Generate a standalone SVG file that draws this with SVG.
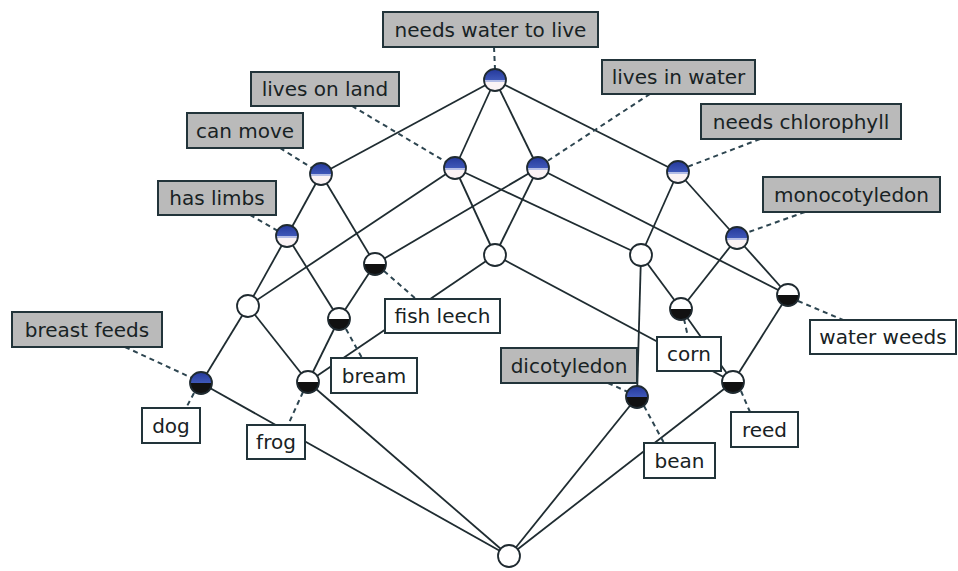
<svg xmlns="http://www.w3.org/2000/svg" xmlns:xlink="http://www.w3.org/1999/xlink" width="958" height="571" viewBox="0 0 958 571">
<style>
.edge{stroke:#1f2c31;stroke-width:1.8;fill:none}
.dash{stroke:#2d4550;stroke-width:2;stroke-dasharray:5 4;fill:none}
.attr rect{fill:#bababa;stroke:#22343a;stroke-width:2}
.obj rect{fill:#ffffff;stroke:#22343a;stroke-width:2}
text{font-family:"DejaVu Sans","Liberation Sans",sans-serif;font-size:20px;fill:#182224;text-anchor:middle}
.ring{fill:none;stroke:#1f2a30;stroke-width:1.8}
</style>
<defs>
<linearGradient id="blue" x1="0" y1="0" x2="0" y2="1">
<stop offset="0" stop-color="#24389a"/>
<stop offset="1" stop-color="#3f58b8"/>
</linearGradient>
<g id="n-plain"><circle r="11" fill="#fff"/><circle r="11" class="ring"/></g>
<g id="n-attr"><circle r="11" fill="#fbf3f5"/><path d="M-11,0 A11,11 0 0 1 11,0 Z" fill="url(#blue)"/><path d="M-10.5,1 H10.5" stroke="#b4bde6" stroke-width="2"/><circle r="11" class="ring"/></g>
<g id="n-obj"><circle r="11" fill="#fff"/><path d="M-11,0 A11,11 0 0 0 11,0 Z" fill="#111"/><circle r="11" class="ring"/></g>
<g id="n-both"><path d="M-11,0 A11,11 0 0 1 11,0 Z" fill="url(#blue)"/><path d="M-11,0 A11,11 0 0 0 11,0 Z" fill="#111"/><circle r="11" class="ring"/></g>
</defs>
<rect width="958" height="571" fill="#fff"/>
<g id="connectors">
<g class="edge">
<line x1="495" y1="80" x2="321" y2="174"/>
<line x1="495" y1="80" x2="455" y2="168"/>
<line x1="495" y1="80" x2="538" y2="168"/>
<line x1="495" y1="80" x2="678" y2="172"/>
<line x1="321" y1="174" x2="287" y2="236"/>
<line x1="321" y1="174" x2="375" y2="264"/>
<line x1="455" y1="168" x2="248" y2="306"/>
<line x1="455" y1="168" x2="495" y2="255"/>
<line x1="455" y1="168" x2="641" y2="255"/>
<line x1="538" y1="168" x2="375" y2="264"/>
<line x1="538" y1="168" x2="495" y2="255"/>
<line x1="538" y1="168" x2="788" y2="295"/>
<line x1="678" y1="172" x2="641" y2="255"/>
<line x1="678" y1="172" x2="737" y2="238"/>
<line x1="287" y1="236" x2="248" y2="306"/>
<line x1="287" y1="236" x2="339" y2="319"/>
<line x1="375" y1="264" x2="339" y2="319"/>
<line x1="495" y1="255" x2="308" y2="382"/>
<line x1="495" y1="255" x2="733" y2="382"/>
<line x1="641" y1="255" x2="637" y2="397"/>
<line x1="641" y1="255" x2="681" y2="309"/>
<line x1="737" y1="238" x2="681" y2="309"/>
<line x1="737" y1="238" x2="788" y2="295"/>
<line x1="248" y1="306" x2="201" y2="383"/>
<line x1="248" y1="306" x2="308" y2="382"/>
<line x1="339" y1="319" x2="308" y2="382"/>
<line x1="681" y1="309" x2="733" y2="382"/>
<line x1="788" y1="295" x2="733" y2="382"/>
<line x1="201" y1="383" x2="509" y2="556"/>
<line x1="308" y1="382" x2="509" y2="556"/>
<line x1="637" y1="397" x2="509" y2="556"/>
<line x1="733" y1="382" x2="509" y2="556"/>
</g>
<g class="dash">
<line x1="494" y1="47" x2="495" y2="69"/>
<line x1="352" y1="106" x2="446" y2="162"/>
<line x1="280" y1="148" x2="312" y2="168"/>
<line x1="250" y1="215" x2="278" y2="231"/>
<line x1="650" y1="94" x2="546" y2="162"/>
<line x1="760" y1="139" x2="687" y2="167"/>
<line x1="805" y1="212" x2="746" y2="233"/>
<line x1="125" y1="347" x2="192" y2="378"/>
<line x1="608" y1="383" x2="628" y2="392"/>
<line x1="194" y1="393" x2="186" y2="408"/>
<line x1="303" y1="392" x2="288" y2="425"/>
<line x1="346" y1="329" x2="362" y2="358"/>
<line x1="384" y1="271" x2="416" y2="299"/>
<line x1="684" y1="319" x2="688" y2="337"/>
<line x1="798" y1="301" x2="843" y2="320"/>
<line x1="741" y1="391" x2="750" y2="412"/>
<line x1="644" y1="406" x2="664" y2="443"/>
</g>
</g>
<g id="top"><use href="#n-attr" x="495" y="80"/></g>
<g id="can-move"><use href="#n-attr" x="321" y="174"/></g>
<g id="lives-on-land"><use href="#n-attr" x="455" y="168"/></g>
<g id="lives-in-water"><use href="#n-attr" x="538" y="168"/></g>
<g id="needs-chlorophyll"><use href="#n-attr" x="678" y="172"/></g>
<g id="has-limbs"><use href="#n-attr" x="287" y="236"/></g>
<g id="monocotyledon"><use href="#n-attr" x="737" y="238"/></g>
<g id="fish-leech"><use href="#n-obj" x="375" y="264"/></g>
<g id="land-water"><use href="#n-plain" x="495" y="255"/></g>
<g id="land-chlorophyll"><use href="#n-plain" x="641" y="255"/></g>
<g id="land-limbs"><use href="#n-plain" x="248" y="306"/></g>
<g id="bream"><use href="#n-obj" x="339" y="319"/></g>
<g id="corn"><use href="#n-obj" x="681" y="309"/></g>
<g id="water-weeds"><use href="#n-obj" x="788" y="295"/></g>
<g id="dog"><use href="#n-both" x="201" y="383"/></g>
<g id="frog"><use href="#n-obj" x="308" y="382"/></g>
<g id="dicotyledon"><use href="#n-both" x="637" y="397"/></g>
<g id="reed"><use href="#n-obj" x="733" y="382"/></g>
<g id="bottom"><use href="#n-plain" x="509" y="556"/></g>
<g id="labels">
<g class="attr" id="lbl-needs-water"><rect x="383" y="12" width="215" height="35"/><text x="490.5" y="37">needs water to live</text></g>
<g class="attr" id="lbl-lives-on-land"><rect x="251" y="72" width="148" height="34"/><text x="325" y="96">lives on land</text></g>
<g class="attr" id="lbl-can-move"><rect x="187" y="113" width="116" height="35"/><text x="245" y="138">can move</text></g>
<g class="attr" id="lbl-has-limbs"><rect x="158" y="181" width="118" height="34"/><text x="217" y="205">has limbs</text></g>
<g class="attr" id="lbl-lives-in-water"><rect x="602" y="60" width="153" height="34"/><text x="678.5" y="84">lives in water</text></g>
<g class="attr" id="lbl-needs-chlorophyll"><rect x="701" y="104" width="200" height="35"/><text x="801" y="129">needs chlorophyll</text></g>
<g class="attr" id="lbl-monocotyledon"><rect x="763" y="177" width="177" height="35"/><text x="851.5" y="202">monocotyledon</text></g>
<g class="attr" id="lbl-breast-feeds"><rect x="12" y="312" width="150" height="35"/><text x="87" y="337">breast feeds</text></g>
<g class="attr" id="lbl-dicotyledon"><rect x="501" y="348" width="136" height="35"/><text x="569" y="373">dicotyledon</text></g>
<g class="obj" id="lbl-dog"><rect x="142" y="408" width="58" height="35"/><text x="171" y="433">dog</text></g>
<g class="obj" id="lbl-frog"><rect x="247" y="425" width="58" height="34"/><text x="276" y="449">frog</text></g>
<g class="obj" id="lbl-bream"><rect x="331" y="358" width="86" height="35"/><text x="374" y="383">bream</text></g>
<g class="obj" id="lbl-fish-leech"><rect x="385" y="299" width="115" height="34"/><text x="442.5" y="323">fish leech</text></g>
<g class="obj" id="lbl-corn"><rect x="657" y="337" width="64" height="34"/><text x="689" y="361">corn</text></g>
<g class="obj" id="lbl-water-weeds"><rect x="810" y="320" width="146" height="34"/><text x="883" y="344">water weeds</text></g>
<g class="obj" id="lbl-reed"><rect x="731" y="412" width="67" height="35"/><text x="764.5" y="437">reed</text></g>
<g class="obj" id="lbl-bean"><rect x="644" y="443" width="71" height="35"/><text x="679.5" y="468">bean</text></g>
</g>
</svg>
